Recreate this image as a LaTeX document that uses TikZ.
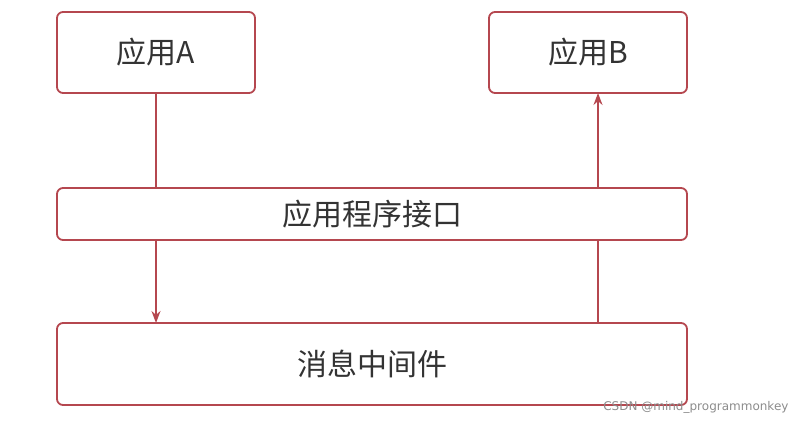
\documentclass[tikz,border=0pt]{standalone}
\usepackage{fontspec}
\newfontfamily\cjk{Noto Sans CJK SC}
\usetikzlibrary{arrows.meta}
\definecolor{bd}{HTML}{B5474F}
\tikzset{box/.style={draw=bd,line width=1.8pt,rounded corners=6pt,fill=white,font=\cjk\fontsize{30}{34}\selectfont,text=black!80},
arr/.style={draw=bd,line width=1.4pt,-{Stealth[length=12pt,width=9pt]}}}
\begin{document}
\begin{tikzpicture}[x=1pt,y=-1pt]
\useasboundingbox (0,0) rectangle (805,425);
\node[box,minimum width=198pt,minimum height=81pt] (A) at (156,52.5) {应用A};
\node[box,minimum width=198pt,minimum height=81pt] (B) at (588,52.5) {应用B};
\node[box,minimum width=630pt,minimum height=82pt] (M) at (372,364) {消息中间件};
\coordinate (a1) at (156,93);
\coordinate (a2) at (156,323);
\coordinate (b1) at (598,323);
\coordinate (b2) at (598,93);
\draw[arr] (a1) -- (a2);
\draw[arr] (b1) -- (b2);
\node[box,minimum width=630pt,minimum height=52pt] (I) at (372,214) {应用程序接口};
\node[anchor=east,font=\fontspec{DejaVu Sans}\fontsize{12}{14}\selectfont,text=black!45] (w) at (792,407) {CSDN @mind\_programmonkey};
\end{tikzpicture}
\end{document}
